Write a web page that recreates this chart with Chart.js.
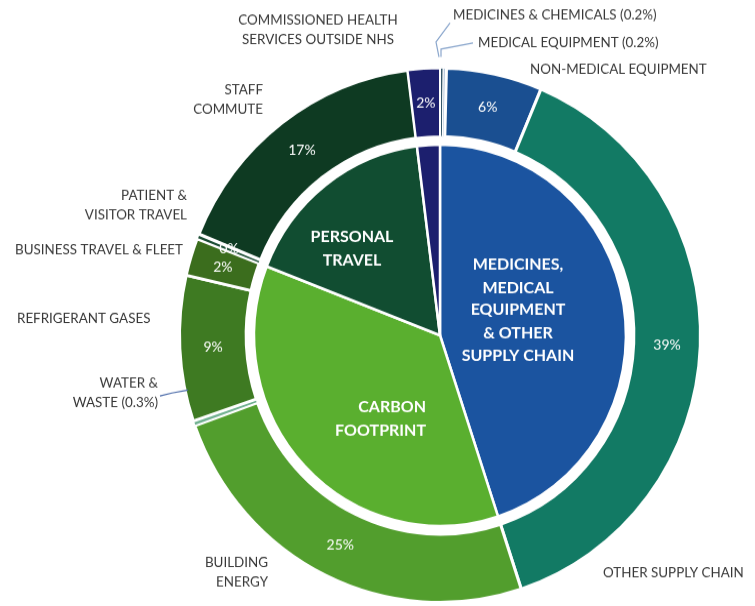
<!DOCTYPE html>
<html><head><meta charset="utf-8">
<script src="https://cdn.jsdelivr.net/npm/chart.js@4.4.1/dist/chart.umd.min.js"></script>
<style>
html,body{margin:0;padding:0;background:#fff;overflow:hidden}
#wrap{width:755px;height:606px;overflow:hidden;position:relative}
#c{display:block;width:755px;height:591px;transform-origin:0 0;transform:scaleY(1.0254)}
</style></head><body>
<div id="wrap"><canvas id="c" width="755" height="591"></canvas></div>
<script>
// ---------- data ----------
const outerCategories = [
  "Medicines & chemicals", "Medical equipment", "Non-medical equipment", "Other supply chain",
  "Building energy", "Water & waste", "Refrigerant gases", "Business travel & fleet",
  "Patient & visitor travel", "Staff commute", "Commissioned health services outside NHS"
];
const outerValues = [0.2, 0.2, 6, 39, 24.8, 0.3, 8.9, 2.3, 0.3, 17, 2];
const outerPctLabels = ["", "", "6%", "39%", "25%", "", "9%", "2%", "0%", "17%", "2%"];

const innerCategories = [
  "Medicines, medical equipment & other supply chain", "Carbon footprint",
  "Personal travel", "Commissioned health services outside NHS"
];
const innerValues = [45.4, 36.3, 17.3, 2];

// ---------- styles ----------
const SY = 606 / 591;
const outerColors = ['#36586a','#b4c6da','#1a4f91','#127a64','#529e2d','#6fb08f','#3e7a22','#3b6d1d','#1b4d34','#0e3a22','#1c1f6e'];
const outerBorders = [1, 1, 3, 3, 3, 1.5, 3, 3, 1.5, 3, 2];
const innerColors = ['#1b54a0','#5aaf2f','#114d31','#1c1f6e'];
const FONT = 'Lato, "Open Sans", sans-serif';

const outsideLabels = [
  {lines:["COMMISSIONED HEALTH","SERVICES OUTSIDE NHS"], x:318, y:[20,40], align:'center'},
  {lines:["MEDICINES & CHEMICALS (0.2%)"], x:453, y:[15], align:'left'},
  {lines:["MEDICAL EQUIPMENT (0.2%)"], x:478, y:[43], align:'left'},
  {lines:["NON-MEDICAL EQUIPMENT"], x:530, y:[69], align:'left'},
  {lines:["STAFF","COMMUTE"], x:263, y:[90,109], align:'right'},
  {lines:["PATIENT &","VISITOR TRAVEL"], x:187, y:[196,215], align:'right'},
  {lines:["BUSINESS TRAVEL & FLEET"], x:183, y:[250], align:'right'},
  {lines:["REFRIGERANT GASES"], x:17, y:[319], align:'left'},
  {lines:["WATER &","WASTE (0.3%)"], x:158, y:[383,403], align:'right'},
  {lines:["BUILDING","ENERGY"], x:268, y:[563,582], align:'right'},
  {lines:["OTHER SUPPLY CHAIN"], x:603, y:[573], align:'left'}
];
const innerLabels = [
  {lines:["MEDICINES,","MEDICAL","EQUIPMENT","& OTHER","SUPPLY CHAIN"], x:518, y:[264,288,310,333,356], align:'center'},
  {lines:["CARBON","FOOTPRINT"], x:426, y:[407,431], align:'right'},
  {lines:["PERSONAL","TRAVEL"], x:352, y:[237,260], align:'center'}
];
const leaders = [
  {pts:[[439,57],[436,42],[450,23]], color:'#8aa6cc'},
  {pts:[[441,57],[441,49],[473,43]], color:'#8aa6cc'},
  {pts:[[160,396],[172,393],[188,390]], color:'#4a6aa8'}
];

const labelPlugin = {
  id: 'labels',
  afterDatasetsDraw(chart) {
    const ctx = chart.ctx;
    ctx.save();
    // percentage labels on outer ring
    const meta = chart.getDatasetMeta(0);
    ctx.fillStyle = '#ffffff';
    ctx.font = '14px ' + FONT;
    ctx.textAlign = 'center';
    ctx.textBaseline = 'middle';
    meta.data.forEach((arc, i) => {
      const t = outerPctLabels[i];
      if (!t) return;
      const p = arc.getCenterPoint();
      ctx.fillText(t, p.x, p.y);
    });
    // inner labels
    ctx.font = 'bold 16px ' + FONT;
    innerLabels.forEach(l => {
      ctx.textAlign = l.align;
      l.lines.forEach((s, k) => ctx.fillText(s, l.x, l.y[k] / SY));
    });
    // outside labels
    ctx.fillStyle = '#383838';
    ctx.font = '13.4px ' + FONT;
    outsideLabels.forEach(l => {
      ctx.textAlign = l.align;
      l.lines.forEach((s, k) => ctx.fillText(s, l.x, l.y[k] / SY));
    });
    // leader lines
    ctx.lineWidth = 1.2;
    leaders.forEach(ld => {
      ctx.strokeStyle = ld.color;
      ctx.beginPath();
      ld.pts.forEach((p, k) => k ? ctx.lineTo(p[0], p[1] / SY) : ctx.moveTo(p[0], p[1] / SY));
      ctx.stroke();
    });
    ctx.restore();
  }
};

new Chart(document.getElementById('c'), {
  type: 'doughnut',
  data: {
    labels: outerCategories,
    datasets: [
      {data: outerValues, backgroundColor: outerColors, borderColor: '#ffffff', borderWidth: outerBorders, weight: 67},
      {data: [1], backgroundColor: 'rgba(0,0,0,0)', borderWidth: 0, weight: 8},
      {data: innerValues, backgroundColor: innerColors, borderColor: '#ffffff', borderWidth: 2.5, weight: 187}
    ]
  },
  options: {
    responsive: false,
    animation: false,
    devicePixelRatio: 1,
    cutout: 0,
    layout: {padding: {left: 178, right: 53, top: 65, bottom: 2}},
    plugins: {legend: {display: false}, tooltip: {enabled: false}},
    events: []
  },
  plugins: [labelPlugin]
});
</script>
</body></html>
